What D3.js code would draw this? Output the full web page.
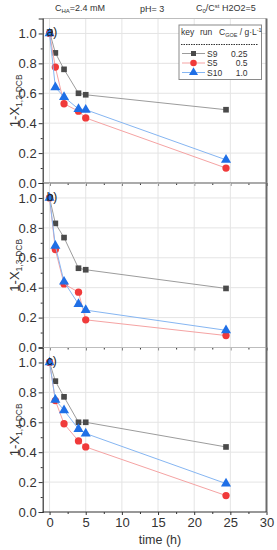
<!DOCTYPE html>
<html lang="en">
<head>
<meta charset="UTF-8">
<title>DCB conversion</title>
<script src="https://d3js.org/d3.v7.min.js"></script>
<style>
  body { margin: 0; background: #fff; }
  svg { font-family: "Liberation Sans", Arial, sans-serif; }
  .grid line { stroke: #e4e4e4; stroke-width: 1; }
</style>
</head>
<body>
<div id="chart"></div>
<script>
    // sampling times (h)
    const times = [0, 0.8, 2, 4, 5, 24.4];
    const xTicks = [0, 5, 10, 15, 20, 25, 30];
    const yTicks = [0, 0.2, 0.4, 0.6, 0.8, 1.0];
    const panelLabels = ["a)", "b)", "c)"];
    const yTitleSubs = ["1,2-DCB", "1,3-DCB", "1,4-DCB"];
    const runs = ["S9", "S5", "S10"];
    const cGoe = ["0.25", "0.5", "1.0"];

    // panel a (1,2-DCB)
    const a_S9  = [1.01, 0.87, 0.76, 0.60, 0.59, 0.49];
    const a_S5  = [1.0, 0.775, 0.53, 0.48, 0.435, 0.10];
    const a_S10 = [1.0, 0.64, 0.575, 0.495, 0.49, 0.155];
    // panel b (1,3-DCB)
    const b_S9  = [1.0, 0.83, 0.735, 0.53, 0.52, 0.395];
    const b_S5  = [1.0, 0.655, 0.425, 0.37, 0.185, 0.08];
    const b_S10 = [1.0, 0.68, 0.44, 0.29, 0.25, 0.115];
    // panel c (1,4-DCB)
    const c_S9  = [1.0, 0.875, 0.77, 0.60, 0.60, 0.435];
    const c_S5  = [1.0, 0.745, 0.59, 0.475, 0.435, 0.11];
    const c_S10 = [1.0, 0.75, 0.68, 0.555, 0.525, 0.19];

    const panels = [[a_S9, a_S5, a_S10], [b_S9, b_S5, b_S10], [c_S9, c_S5, c_S10]];

    const markColors = ["#4a4a4a", "#f03a3a", "#1f6fe6"];
    const lineColors = ["#9c9c9c", "#f5a3a3", "#86b6f2"];
    const shapes = [d3.symbolSquare, d3.symbolCircle, d3.symbolTriangle];
    const sizes = [32, 42, 44];

    const w = 277, h = 550;
    const left = 42.7, right = 266.5;
    const top0 = 18.5, ph = 164.5;

    const svg = d3.select('#chart').append('svg')
        .attr('width', w)
        .attr('height', h);

    const x = d3.scaleLinear().domain([-0.95, 30]).range([left, right]);

    panels.forEach((series, p) => {
        const top = top0 + p * ph;
        const y = d3.scaleLinear().domain([0, 1.1]).range([top + ph, top]);
        const g = svg.append('g');

        // grid
        const grid = g.append('g').attr('class', 'grid');
        grid.selectAll('.vg').data(xTicks.filter(d => d < 30)).enter().append('line')
            .attr('x1', d => x(d)).attr('x2', d => x(d))
            .attr('y1', top).attr('y2', top + ph);
        grid.selectAll('.hg').data(yTicks.filter(d => d > 0)).enter().append('line')
            .attr('x1', left).attr('x2', right)
            .attr('y1', d => y(d)).attr('y2', d => y(d));

        // top frame line
        g.append('line')
            .attr('x1', left).attr('x2', right)
            .attr('y1', top).attr('y2', top)
            .style('stroke', '#bdbdbd');

        // right frame
        g.append('line')
            .attr('x1', right).attr('x2', right)
            .attr('y1', top).attr('y2', top + ph)
            .style('stroke', '#6b6b6b').style('stroke-width', 2);

        // y axis
        const yAxis = d3.axisLeft(y).tickValues(yTicks).tickFormat(d3.format('.1f'))
            .tickSize(4).tickPadding(2);
        const ya = g.append('g')
            .attr('transform', 'translate(' + left + ',0)')
            .call(yAxis);
        ya.select('.domain').style('stroke', '#333').style('stroke-width', 1.2);
        ya.selectAll('.tick line').style('stroke', '#333');
        ya.selectAll('text').style('font-size', '13px').style('fill', '#333')
            .style('font-family', '"Liberation Sans", Arial, sans-serif');
        g.append('g')
            .attr('transform', 'translate(' + left + ',0)')
            .call(d3.axisLeft(y).tickValues([0.1, 0.3, 0.5, 0.7, 0.9]).tickSize(2).tickFormat(''))
            .call(s => s.select('.domain').remove())
            .selectAll('line').style('stroke', '#333');

        // x axis
        const xAxis = d3.axisBottom(x).tickValues(xTicks).tickSize(3)
            .tickFormat(p === 2 ? d3.format('d') : '');
        const xa = g.append('g')
            .attr('transform', 'translate(0,' + (top + ph) + ')')
            .call(xAxis);
        xa.select('.domain').attr('d', 'M' + left + ',0H' + right)
            .style('stroke', '#333').style('stroke-width', 1.2);
        xa.selectAll('.tick line').style('stroke', '#333');
        xa.selectAll('text').style('font-size', '13px').style('fill', '#333')
            .style('font-family', '"Liberation Sans", Arial, sans-serif');
        g.append('g')
            .attr('transform', 'translate(0,' + (top + ph) + ')')
            .call(d3.axisBottom(x).tickValues([2.5, 7.5, 12.5, 17.5, 22.5, 27.5]).tickSize(2).tickFormat(''))
            .call(s => s.select('.domain').remove())
            .selectAll('line').style('stroke', '#333');

        // y title
        const yt = g.append('text')
            .attr('transform', 'translate(18.5,' + (top + ph / 2) + ') rotate(-90)')
            .attr('text-anchor', 'middle')
            .style('font-size', '13px').style('fill', '#333');
        yt.append('tspan').text('1-X');
        yt.append('tspan').attr('dy', 3).style('font-size', '8.5px').text(yTitleSubs[p]);

        // series
        const line = d3.line().x((d, i) => x(times[i])).y(d => y(d));
        series.forEach((vals, s) => {
            g.append('path')
                .datum(vals)
                .attr('d', line)
                .style('fill', 'none')
                .style('stroke', lineColors[s])
                .style('stroke-width', 1);
            g.selectAll('.m' + s).data(vals).enter().append('path')
                .attr('transform', (d, i) => 'translate(' + x(times[i]) + ',' + y(d) + ')')
                .attr('d', d3.symbol().type(shapes[s]).size(sizes[s]))
                .style('fill', markColors[s]);
        });

        // panel label
        g.append('text')
            .attr('x', left + 4).attr('y', y(1.0) + 3)
            .style('font-size', '12px').style('fill', '#222')
            .text(panelLabels[p]);
    });

    // x title
    svg.append('text')
        .attr('x', (x(0) + x(30)) / 2 + 2).attr('y', 544)
        .attr('text-anchor', 'middle')
        .style('font-size', '12.5px').style('fill', '#333')
        .text('time (h)');

    // header texts
    const hdr = svg.append('g').style('font-size', '9px').style('fill', '#333');
    const h1 = hdr.append('text').attr('x', 55).attr('y', 11);
    h1.append('tspan').text('C');
    h1.append('tspan').attr('dy', 2).style('font-size', '6px').text('HA');
    h1.append('tspan').attr('dy', -2).text('=2.4 mM');
    hdr.append('text').attr('x', 140).attr('y', 12).text('pH= 3');
    const h3 = hdr.append('text').attr('x', 196).attr('y', 11);
    h3.append('tspan').text('C');
    h3.append('tspan').attr('dy', 2).style('font-size', '6px').text('0');
    h3.append('tspan').attr('dy', -2).text('/C');
    h3.append('tspan').attr('dy', -3).style('font-size', '6px').text('st');
    h3.append('tspan').attr('dy', 3).text(' H2O2=5');

    // legend
    const lg = svg.append('g').style('font-size', '8.5px').style('fill', '#333');
    lg.append('rect')
        .attr('x', 179).attr('y', 25).attr('width', 82.5).attr('height', 54.5)
        .style('fill', '#fff').style('stroke', '#8a8a8a').style('stroke-width', 1);
    const lh = lg.append('text').attr('x', 181).attr('y', 35);
    lh.append('tspan').text('key');
    lh.append('tspan').attr('x', 200).text('run');
    lh.append('tspan').attr('x', 219).text('C');
    lh.append('tspan').attr('dy', 2).style('font-size', '5.5px').text('GOE');
    lh.append('tspan').attr('dy', -2).text(' / g·L');
    lh.append('tspan').attr('dy', -3).style('font-size', '5.5px').text('-1');
    lg.append('line')
        .attr('x1', 181).attr('x2', 258).attr('y1', 44.5).attr('y2', 44.5)
        .style('stroke', '#333').style('stroke-dasharray', '1.5,1');
    const rowY = [53.5, 63, 72.5];
    runs.forEach((r, i) => {
        lg.append('line')
            .attr('x1', 182).attr('x2', 205).attr('y1', rowY[i]).attr('y2', rowY[i])
            .style('stroke', lineColors[i]);
        lg.append('path')
            .attr('transform', 'translate(193.5,' + rowY[i] + ')')
            .attr('d', d3.symbol().type(shapes[i]).size(sizes[i] * 0.8))
            .style('fill', markColors[i]);
        lg.append('text').attr('x', 207).attr('y', rowY[i] + 3).text(r);
        lg.append('text').attr('x', 247.5).attr('y', rowY[i] + 3)
            .attr('text-anchor', 'end').text(cGoe[i]);
    });
</script>
</body>
</html>
